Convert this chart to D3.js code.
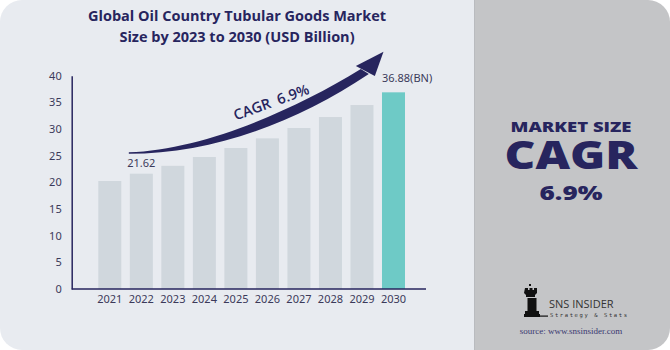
<!DOCTYPE html>
<html><head><meta charset="utf-8">
<script src="https://cdn.jsdelivr.net/npm/d3@7"></script>
<style>html,body{margin:0;padding:0;background:#fff;}svg{display:block;}</style>
</head><body>
<script>
const years = ["2021","2022","2023","2024","2025","2026","2027","2028","2029","2030"];
const marketSize = [20.25, 21.62, 23.1, 24.75, 26.44, 28.25, 30.19, 32.25, 34.5, 36.88];
const yTicks = [0,5,10,15,20,25,30,35,40];
const titleLines = ["Global Oil Country Tubular Goods Market","Size by 2023 to 2030 (USD Billion)"];
const cagrText = "CAGR  6.9%";
const firstLabel = "21.62";
const lastLabel = "36.88(BN)";

const W = 670, H = 350;
const navy = "#27255e";
const svg = d3.select("body").append("svg").attr("width", W).attr("height", H);

// panels
svg.append("rect").attr("x",0).attr("y",0).attr("width",500).attr("height",H).attr("rx",22).attr("fill","#e8ebf0");
const r = 22, px = 474;
svg.append("path").attr("d",
  `M${px},0 H${W-r} A${r},${r} 0 0 1 ${W},${r} V${H-r} A${r},${r} 0 0 1 ${W-r},${H} H${px} Z`)
  .attr("fill","#c4c5c7");
svg.append("line").attr("x1",px+0.5).attr("x2",px+0.5).attr("y1",0).attr("y2",H).attr("stroke","#b9bbbf").attr("stroke-width",1);

// title
svg.append("g").selectAll("text").data(titleLines).join("text")
  .attr("x",237).attr("y",(d,i)=>21+i*21)
  .attr("text-anchor","middle")
  .attr("font-family","'Open Sans', sans-serif").attr("font-weight",700)
  .attr("font-size",14.5).attr("fill",navy)
  .text(d=>d);

// scales
const x = d3.scaleBand().domain(years).range([98.3,405]).paddingInner(0.27).paddingOuter(0);
const y = d3.scaleLinear().domain([0,40]).range([289,75.7]);
const axisX0 = 71.7, axisX1 = 426;

// bars
svg.append("g").selectAll("rect").data(years).join("rect")
  .attr("x",d=>x(d)).attr("width",x.bandwidth())
  .attr("y",(d,i)=>y(marketSize[i])).attr("height",(d,i)=>y(0)-y(marketSize[i]))
  .attr("fill",(d,i)=>i===years.length-1?"#6ecac6":"#d0d7dd");

// y axis
const ya = svg.append("g").attr("transform",`translate(${axisX0},0)`)
  .call(d3.axisLeft(y).tickValues(yTicks).tickSize(0).tickPadding(10));
ya.select(".domain").attr("stroke",navy).attr("stroke-width",1.5);
ya.selectAll("text").attr("font-family","'Noto Sans', sans-serif").attr("font-size",11).attr("fill","#3b3a5a");

// x axis
const xa = svg.append("g").attr("transform",`translate(0,${y(0)})`)
  .call(d3.axisBottom(x).tickSize(0).tickPadding(6));
xa.select(".domain").remove();
xa.selectAll("text").attr("font-family","'Noto Sans', sans-serif").attr("font-size",11).attr("fill","#3b3a5a");
svg.append("line").attr("x1",axisX0).attr("x2",axisX1).attr("y1",y(0)).attr("y2",y(0))
  .attr("stroke",navy).attr("stroke-width",1.5);

// value labels
svg.append("text").attr("x",x(years[1])+x.bandwidth()/2).attr("y",y(marketSize[1])-7)
  .attr("text-anchor","middle").attr("font-family","'Noto Sans', sans-serif").attr("font-size",11).attr("fill","#3b3a5a")
  .text(firstLabel);
svg.append("text").attr("x",x(years[9])).attr("y",y(marketSize[9])-10)
  .attr("font-family","'Noto Sans', sans-serif").attr("font-size",11).attr("fill","#3b3a5a")
  .text(lastLabel);

// CAGR arrow (anchored to scales)
const sx = x(years[1]) - 1, sy = y(25.5);
const tipX = x(years[9]) + 1.5, tipY = y(44.5);
const body = `M${sx},${sy-0.8} C${sx+72},${sy-3} ${sx+162},${sy-41} ${sx+232},${sy-84}
 L${sx+240},${sy-79} C${sx+167},${sy-30} ${sx+82},${sy+0.8} ${sx},${sy+0.8} Z`;
svg.append("path").attr("d",body).attr("fill",navy);
svg.append("path").attr("d",`M${tipX},${tipY} L${sx+227},${sy-87} L${sx+246},${sy-77} Z`).attr("fill",navy);

svg.append("text").attr("transform","translate(273,107) rotate(-20)")
  .attr("text-anchor","middle").attr("font-family","'Open Sans', sans-serif").attr("font-weight",600)
  .attr("font-size",14.5).attr("fill",navy).attr("xml:space","preserve").text(cagrText);

// right panel text
const cx = 571;
svg.append("text").attr("x",cx).attr("y",132).attr("text-anchor","middle")
  .attr("font-family","'Open Sans', sans-serif").attr("font-weight",800).attr("font-size",14.5).attr("fill",navy)
  .attr("textLength",121).attr("lengthAdjust","spacingAndGlyphs")
  .text("MARKET SIZE");
svg.append("text").attr("x",cx).attr("y",169).attr("text-anchor","middle")
  .attr("font-family","'Open Sans', sans-serif").attr("font-weight",800).attr("font-size",38).attr("fill",navy)
  .attr("textLength",133).attr("lengthAdjust","spacingAndGlyphs")
  .text("CAGR");
svg.append("text").attr("x",cx).attr("y",200).attr("text-anchor","middle")
  .attr("font-family","'Open Sans', sans-serif").attr("font-weight",800).attr("font-size",20).attr("fill",navy)
  .attr("textLength",63).attr("lengthAdjust","spacingAndGlyphs")
  .text("6.9%");

// logo
const lg = svg.append("g").attr("fill","#111");
lg.append("path").attr("d",
 "M529,284 h2 v2 h-2 Z M525,288 h3 v2 h1.5 v-2 h3 v2 h1.5 v-2 h3 v5 l-2,2 v2 h-9 v-2 l-2,-2 Z M527.5,298 h9 v13 h-9 Z M525,311 h14 v3 h-14 Z M524,314 h16 v3 h-16 Z");
lg.append("rect").attr("x",538).attr("y",315.5).attr("width",10).attr("height",1.2);
svg.append("text").attr("x",549).attr("y",308).attr("font-family","'Open Sans', sans-serif")
  .attr("font-size",11).attr("font-weight",500).attr("fill","#333").text("SNS INSIDER");
svg.append("text").attr("x",550).attr("y",317).attr("font-family","'DejaVu Sans Mono', monospace")
  .attr("font-size",5.5).attr("letter-spacing",1.6).attr("fill","#333").text("Strategy & Stats");
svg.append("text").attr("x",cx).attr("y",334).attr("text-anchor","middle")
  .attr("font-family","'Liberation Serif', serif").attr("font-size",9).attr("fill","#3a3870")
  .text("source: www.snsinsider.com");
</script>
</body></html>
